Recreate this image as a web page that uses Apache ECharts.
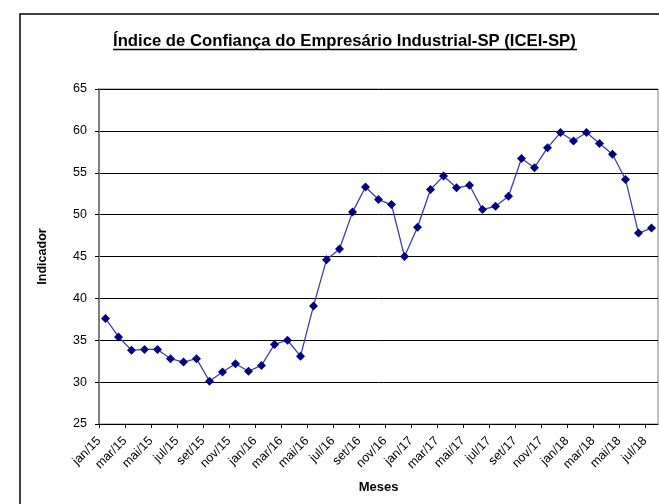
<!DOCTYPE html>
<html>
<head>
<meta charset="utf-8">
<script src="https://cdn.jsdelivr.net/npm/echarts@6/dist/echarts.min.js"></script>
<style>html,body{margin:0;padding:0;background:#fff}#c{width:659px;height:504px}</style>
</head>
<body>
<div id="c"></div>
<script>
const months = ['jan/15','fev/15','mar/15','abr/15','mai/15','jun/15','jul/15','ago/15','set/15','out/15','nov/15','dez/15',
'jan/16','fev/16','mar/16','abr/16','mai/16','jun/16','jul/16','ago/16','set/16','out/16','nov/16','dez/16',
'jan/17','fev/17','mar/17','abr/17','mai/17','jun/17','jul/17','ago/17','set/17','out/17','nov/17','dez/17',
'jan/18','fev/18','mar/18','abr/18','mai/18','jun/18','jul/18'];
const icei = [37.6,35.4,33.8,33.9,33.9,32.8,32.4,32.8,30.1,31.2,32.2,31.3,
32.0,34.5,35.0,33.1,39.1,44.6,45.9,50.3,53.3,51.8,51.2,45.0,
48.5,53.0,54.6,53.2,53.5,50.6,51.0,52.2,56.7,55.6,58.0,59.8,
58.8,59.8,58.5,57.2,54.2,47.8,48.4];
const titleText = 'Índice de Confiança do Empresário Industrial-SP (ICEI-SP)';
const yName = 'Indicador';
const xName = 'Meses';

const chart = echarts.init(document.getElementById('c'), null, {renderer:'canvas'});
const font = 'Liberation Sans, Arial, sans-serif';
chart.setOption({
  animation:false,
  backgroundColor:'#fff',
  title:{text:titleText,left:113,top:33,padding:0,textStyle:{fontFamily:font,fontSize:16.7,fontWeight:'bold',color:'#000'}},
  grid:{left:99,top:89,width:559,height:335,containLabel:false,show:true,borderColor:'#808080',borderWidth:1},
  xAxis:{type:'value',min:0,max:months.length,interval:2,
    name:xName,nameLocation:'middle',nameGap:57,
    nameTextStyle:{fontFamily:font,fontSize:13,fontWeight:'bold',color:'#000'},
    axisLine:{show:true,lineStyle:{color:'#000',width:1}},
    axisTick:{show:true,inside:false,length:4,lineStyle:{color:'#000'}},
    splitLine:{show:false},
    axisLabel:{rotate:45,margin:15,fontFamily:font,fontSize:12.5,color:'#000',showMaxLabel:false,
      formatter:function(v){return months[v]||'';}}
  },
  yAxis:{type:'value',min:25,max:65,interval:5,
    name:yName,nameLocation:'middle',nameGap:50,
    nameTextStyle:{fontFamily:font,fontSize:12.5,fontWeight:'bold',color:'#000'},
    axisLine:{show:true,lineStyle:{color:'#808080',width:2}},
    axisTick:{show:true,length:4,lineStyle:{color:'#000'}},
    splitLine:{show:true,lineStyle:{color:'#000',width:1}},
    axisLabel:{margin:12,fontFamily:font,fontSize:12.5,color:'#000'}
  },
  graphic:[
    {type:'rect',shape:{x:20,y:14,width:700,height:600},style:{fill:null,stroke:'#000',lineWidth:1.5},silent:true,z:-1},
    {type:'line',shape:{x1:113,y1:49.5,x2:577,y2:49.5},style:{stroke:'#000',lineWidth:1.5},silent:true}
  ],
  series:[{type:'line',data:icei.map(function(v,i){return [i+0.5,v];}),
    symbol:'diamond',symbolSize:9,showAllSymbol:true,
    lineStyle:{color:'#3f3fa8',width:1.3},
    itemStyle:{color:'#000080'}
  }]
});
</script>
</body>
</html>
